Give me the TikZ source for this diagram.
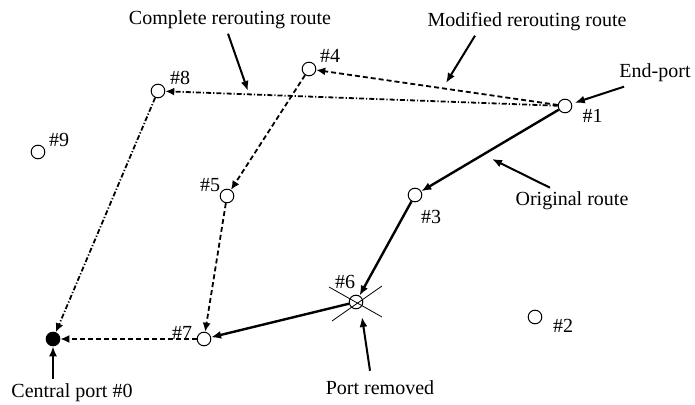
\documentclass[tikz,border=0pt]{standalone}
\usepackage{fontspec}
\setmainfont{Liberation Serif}
\usetikzlibrary{arrows.meta}
\tikzset{
    port/.style = {
        circle,
        draw,
        line width = 0.5pt,
        minimum size = 6.8pt,
        inner sep = 0pt,
        },
    central port/.style = {
        port,
        fill = black,
        },
    tag/.style = {
        anchor = base,
        inner sep = 0pt,
        },
    caption/.style = {
        anchor = base,
        inner sep = 2pt,
        },
    original route/.style = {
        line width = 1.2pt,
        -{Latex[length = 5pt, width = 4pt]},
        },
    modified route/.style = {
        line width = 0.9pt,
        dash pattern = on 2.5pt off 1.5pt,
        -{Latex[length = 4.5pt, width = 4pt]},
        },
    complete route/.style = {
        line width = 0.9pt,
        dash pattern = on 2.5pt off 1pt on 0.6pt off 1pt,
        -{Latex[length = 4.5pt, width = 4pt]},
        },
    pointer/.style = {
        line width = 1pt,
        -{Latex[length = 5pt, width = 4pt]},
        },
    removed/.style = {
        line width = 0.4pt,
        },
}

\begin{document}
\begin{tikzpicture}[x=0.5pt, y=-0.5pt]
    \useasboundingbox (0,0) rectangle (695,405);

    % ports
    \node [central port] (p0) at (53,339) {};
    \node [port] (p1) at (565,106) {};
    \node [port] (p2) at (535,317) {};
    \node [port] (p3) at (415,195) {};
    \node [port] (p4) at (309,69) {};
    \node [port] (p5) at (227,196) {};
    \node [port] (p6) at (356,302) {};
    \node [port] (p7) at (204,339) {};
    \node [port] (p8) at (158,91) {};
    \node [port] (p9) at (38,152) {};

    \node [tag] (t1) at (592.5,123) {\#1};
    \node [tag] (t2) at (563,333) {\#2};
    \node [tag] (t3) at (431,224) {\#3};
    \node [tag] (t4) at (330,63) {\#4};
    \node [tag] (t5) at (210,192) {\#5};
    \node [tag] (t6) at (345,289) {\#6};
    \node [tag] (t7) at (182,339) {\#7};
    \node [tag] (t8) at (180,85) {\#8};
    \node [tag] (t9) at (59,147) {\#9};

    % removed port
    \draw [removed] ([shift={(-27,-15)}] p6.center) -- ([shift={(26,15)}] p6.center);
    \draw [removed] ([shift={(-24,19)}] p6.center) -- ([shift={(26,-16)}] p6.center);

    % routes
    \draw [original route] (p1) -- (p3);
    \draw [original route] (p3) -- (p6);
    \draw [original route] (p6) -- (p7);

    \draw [modified route] (p1) -- (p4);
    \draw [modified route] (p4) -- (p5);
    \draw [modified route] (p5) -- (p7);
    \draw [modified route] (p7) -- (p0);

    \draw [complete route] (p1) -- (p8);
    \draw [complete route] (p8) -- (p0);

    % captions
    \node [caption] (complete) at (230,25) {Complete rerouting route};
    \node [caption] (modified) at (527,27) {Modified rerouting route};
    \node [caption] (endport) at (655,78) {End-port};
    \node [caption] (original) at (572,206) {Original route};
    \node [caption] (central) at (72,397) {Central port \#0};
    \node [caption] (portremoved) at (380,394) {Port removed};

    \coordinate (completetip) at (248,91);
    \coordinate (modifiedtip) at (446,83);
    \coordinate (originaltip) at (492,159);
    \coordinate (removedtip) at (362,317);

    \draw [pointer] ([xshift=-1pt] complete.south) -- (completetip);
    \draw [pointer] ([xshift=-26pt] modified.south) -- (modifiedtip);
    \draw [pointer, shorten >=1.5pt] ([xshift=4.5pt] endport.south west) -- (p1);
    \draw [pointer] ([xshift=-11pt] original.north) -- (originaltip);
    \draw [pointer] (central.north -| p0) -- (p0);
    \draw [pointer] ([xshift=-5pt, yshift=2.5pt] portremoved.north) -- (removedtip);
\end{tikzpicture}
\end{document}
